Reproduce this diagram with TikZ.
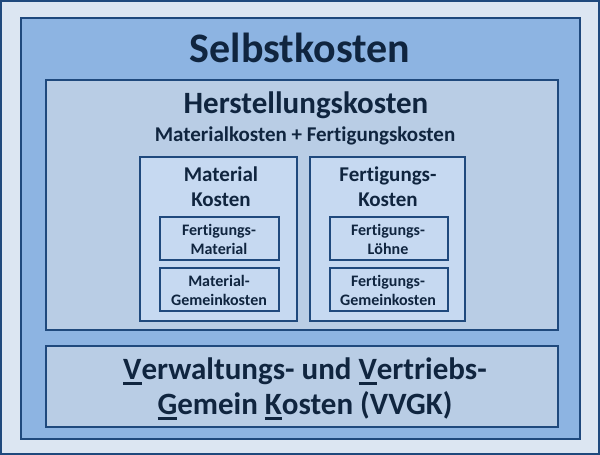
\documentclass[tikz,border=0pt]{standalone}
\usepackage{fontspec}
\setmainfont{Carlito}[Ligatures=NoCommon]
\definecolor{rand}{HTML}{1F497D}
\definecolor{hell}{HTML}{DCE6F2}
\definecolor{mittel}{HTML}{8DB4E2}
\definecolor{blass}{HTML}{B9CDE5}
\definecolor{innen}{HTML}{C6D9F1}
\definecolor{schrift}{HTML}{10253F}
\newcommand\unter[1]{\setbox0\hbox{#1}\rlap{\rule[-5pt]{\wd0}{2.4pt}}\box0}
\begin{document}
\begin{tikzpicture}[x=1pt,y=-1pt,
  kasten/.style={draw=rand, line width=1.3pt},
  titel/.style={text=schrift, font=\bfseries, align=center}]
            \useasboundingbox (0,0) rectangle (600,455);
            \draw[kasten, fill=hell, line width=2.5pt] (1.2,1.2) rectangle (598.8,453.8);
            \draw[kasten, fill=mittel, line width=2pt] (21,18) rectangle (580,439);
            \draw[kasten, fill=blass] (46,80) rectangle (558,330);
            \draw[kasten, fill=innen] (140,157) rectangle (297,321);
            \draw[kasten, fill=innen] (310,157) rectangle (465,321);
            \draw[kasten, fill=innen] (160,217) rectangle (279,260);
            \draw[kasten, fill=innen] (160,268) rectangle (279,311);
            \draw[kasten, fill=innen] (330,217) rectangle (448,260);
            \draw[kasten, fill=innen] (330,268) rectangle (448,311);
            \draw[kasten, fill=blass] (46,346) rectangle (558,427);
            \node[titel, anchor=base, font=\bfseries\fontsize{42}{46}\selectfont] (selbst) at (300,62) {Selbstkosten};
            \node[titel, anchor=base, font=\bfseries\fontsize{31}{34}\selectfont] (herst) at (306,113) {Herstellungskosten};
            \node[titel, anchor=base, font=\bfseries\fontsize{21}{24}\selectfont] (summe) at (305,141) {Materialkosten + Fertigungskosten};
            \node[titel, font=\bfseries\fontsize{21}{25}\selectfont] (mat) at (221,187) {Material\\Kosten};
            \node[titel, font=\bfseries\fontsize{21}{25}\selectfont] (fert) at (388,187) {Fertigungs-\\Kosten};
            \node[titel, font=\bfseries\fontsize{16}{19}\selectfont] (fmat) at (219,239) {Fertigungs-\\Material};
            \node[titel, font=\bfseries\fontsize{16}{19}\selectfont] (mgk) at (219,290) {Material-\\Gemeinkosten};
            \node[titel, font=\bfseries\fontsize{16}{19}\selectfont] (loehne) at (388,239) {Fertigungs-\\Löhne};
            \node[titel, font=\bfseries\fontsize{16}{19}\selectfont] (fgk) at (388,290) {Fertigungs-\\Gemeinkosten};
            \node[titel, font=\bfseries\fontsize{31}{35}\selectfont] (vvgk) at (305,389) {\unter{V}erwaltungs- und \unter{V}ertriebs-\\\unter{G}emein \unter{K}osten (VVGK)};
        \end{tikzpicture}
\end{document}
